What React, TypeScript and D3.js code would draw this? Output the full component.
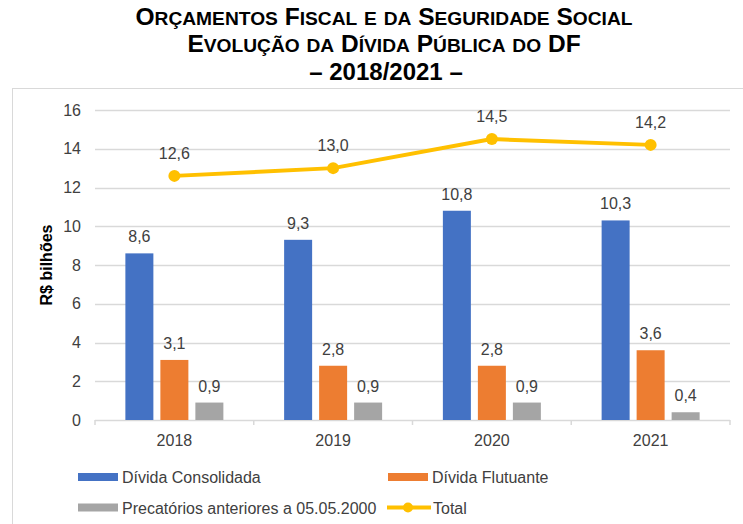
import React from "react";
import * as d3 from "d3";

const years = ["2018", "2019", "2020", "2021"];
const consolidada = [8.6, 9.3, 10.8, 10.3];
const flutuante = [3.1, 2.8, 2.8, 3.6];
const precatorios = [0.9, 0.9, 0.9, 0.4];
const total = [12.6, 13.0, 14.5, 14.2];
const yTicks = [0, 2, 4, 6, 8, 10, 12, 14, 16];
const seriesNames = ["Dívida Consolidada", "Dívida Flutuante", "Precatórios anteriores a 05.05.2000", "Total"];
const colors = ["#4472C4", "#ED7D31", "#A5A5A5", "#FFC000"];
const titleLines = ["Orçamentos Fiscal e da Seguridade Social", "Evolução da Dívida Pública do DF"];
const subtitle = "– 2018/2021 –";

const fmt = (v: number) => v.toFixed(1).replace(".", ",");

function smallCaps(str: string, big: number, small: number) {
  const parts: { t: string; big: boolean }[] = [];
  for (const c of str) {
    const isUp = c === c.toUpperCase() && c !== c.toLowerCase();
    const isBig = isUp || c === " ";
    const last = parts[parts.length - 1];
    if (last && last.big === isBig) last.t += c.toUpperCase();
    else parts.push({ t: c.toUpperCase(), big: isBig });
  }
  return parts.map((p, i) => (
    <tspan key={i} fontSize={p.big ? big : small}>{p.t}</tspan>
  ));
}

export default function App() {
  const W = 743, H = 524;
  const left = 95, right = 730, top = 110, bottom = 420;
  const x = d3.scaleBand().domain(years).range([left, right]).padding(0);
  const y = d3.scaleLinear().domain([0, 16]).range([bottom, top]);
  const barW = 28, step = 35;
  const bars = [consolidada, flutuante, precatorios];
  const font = "'Liberation Sans', Arial, sans-serif";
  const cx = (yr: string) => (x(yr) as number) + x.bandwidth() / 2;
  const line = d3.line<number>().x((_, i) => cx(years[i])).y((d) => y(d));
  const txt = "#404040";

  return (
    <svg width={W} height={H} style={{ position: "absolute", left: 0, top: 0 }} fontFamily={font}>
      <rect width={W} height={H} fill="#fff" />
      <line x1={12.5} x2={12.5} y1={88} y2={H} stroke="#d9d9d9" />
      <line x1={12} x2={W} y1={88.5} y2={88.5} stroke="#d9d9d9" />
      <g fontWeight="bold" fill="#000" textAnchor="middle">
        <text x={384} y={25}>{smallCaps(titleLines[0], 24.5, 19.2)}</text>
        <text x={384} y={52}>{smallCaps(titleLines[1], 24.5, 19.2)}</text>
        <text x={386} y={80} fontSize={24}>{subtitle}</text>
      </g>
      {yTicks.map((t) => (
        <g key={t}>
          <line x1={left} x2={right} y1={Math.round(y(t)) + 0.5} y2={Math.round(y(t)) + 0.5} stroke="#d9d9d9" strokeWidth={1.5} />
          <text x={81} y={y(t) + 5.5} textAnchor="end" fontSize={16} fill={txt}>{t}</text>
        </g>
      ))}
      {d3.range(years.length + 1).map((i) => {
        const xx = left + i * x.bandwidth();
        return <line key={i} x1={xx} x2={xx} y1={bottom} y2={bottom + 5} stroke="#d9d9d9" strokeWidth={1.5} />;
      })}
      <text transform={`translate(52,${265}) rotate(-90)`} textAnchor="middle" fontSize={16} fontWeight="bold" fill="#000">R$ bilhões</text>
      {years.map((yr, i) => (
        <g key={yr}>
          {bars.map((s, k) => {
            const bx = cx(yr) + (k - 1) * step - barW / 2;
            return (
              <g key={k}>
                <rect x={bx} y={y(s[i])} width={barW} height={bottom - y(s[i])} fill={colors[k]} />
                <text x={bx + barW / 2} y={y(s[i]) - 11} textAnchor="middle" fontSize={16} fill={txt}>{fmt(s[i])}</text>
              </g>
            );
          })}
          <text x={cx(yr)} y={bottom + 26} textAnchor="middle" fontSize={16} fill={txt}>{yr}</text>
        </g>
      ))}
      <path d={line(total) || ""} fill="none" stroke={colors[3]} strokeWidth={4} strokeLinejoin="round" />
      {total.map((v, i) => (
        <g key={i}>
          <circle cx={cx(years[i])} cy={y(v)} r={6} fill={colors[3]} />
          <text x={cx(years[i])} y={y(v) - 17} textAnchor="middle" fontSize={16} fill={txt}>{fmt(v)}</text>
        </g>
      ))}
      <g fontSize={16} fill={txt}>
        {[
          { sx: 78, sy: 477, k: 0 },
          { sx: 388, sy: 477, k: 1 },
          { sx: 78, sy: 507.5, k: 2 },
          { sx: 387, sy: 507.5, k: 3 },
        ].map(({ sx, sy, k }) => (
          <g key={k}>
            {k < 3 ? (
              <rect x={sx} y={sy - 4} width={40} height={8} fill={colors[k]} />
            ) : (
              <g>
                <line x1={sx} x2={sx + 44} y1={sy} y2={sy} stroke={colors[3]} strokeWidth={4} />
                <circle cx={sx + 21} cy={sy} r={5} fill={colors[3]} />
              </g>
            )}
            <text x={sx + (k === 3 ? 46 : 44)} y={sy + 6} >{seriesNames[k]}</text>
          </g>
        ))}
      </g>
    </svg>
  );
}
